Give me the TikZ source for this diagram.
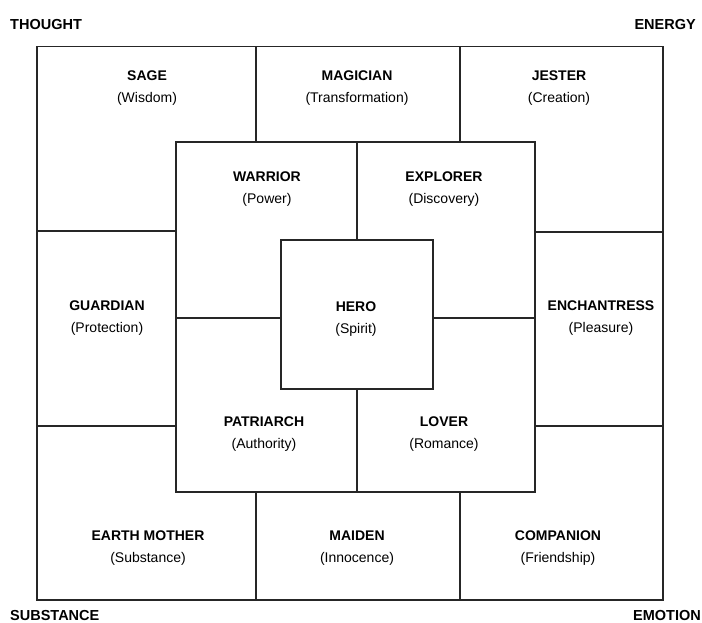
\documentclass[tikz,border=0pt]{standalone}
\usepackage{fontspec}
\setmainfont{Liberation Sans}
\begin{document}
\begin{tikzpicture}[x=1pt,y=-1pt,
  frame/.style={draw=black!85,line width=1.2pt},
  cell/.style={align=center,font=\fontsize{14}{22}\selectfont,inner sep=0pt},
  corner/.style={font=\fontsize{14.5}{16}\selectfont\bfseries,inner sep=0pt,anchor=west}]
\useasboundingbox (0,0) rectangle (702,623);
\fill[white] (0,0) rectangle (702,623);
% outer square and its cell dividers
\draw[frame] (37,46.5) rectangle (663,600);
\draw[frame] (256,46.5) -- (256,142) (460,46.5) -- (460,142);
\draw[frame] (256,492) -- (256,600) (460,492) -- (460,600);
\draw[frame] (37,231) -- (176,231) (37,426) -- (176,426);
\draw[frame] (535,232) -- (663,232) (535,426) -- (663,426);
% inner square
\draw[frame] (176,142) rectangle (535,492);
\draw[frame] (357,142) -- (357,240) (357,389) -- (357,492);
\draw[frame] (176,318) -- (281,318) (433,318) -- (535,318);
% centre square
\draw[frame] (281,240) rectangle (433,389);
% cell labels
\node[cell] (sage) at (147,88) {\textbf{SAGE}\\(Wisdom)};
\node[cell] (magician) at (357,88) {\textbf{MAGICIAN}\\(Transformation)};
\node[cell] (jester) at (559,88) {\textbf{JESTER}\\(Creation)};
\node[cell] (warrior) at (267,189) {\textbf{WARRIOR}\\(Power)};
\node[cell] (explorer) at (444,189) {\textbf{EXPLORER}\\(Discovery)};
\node[cell] (guardian) at (107,318) {\textbf{GUARDIAN}\\(Protection)};
\node[cell] (hero) at (356,319) {\textbf{HERO}\\(Spirit)};
\node[cell] (enchantress) at (601,318) {\textbf{ENCHANTRESS}\\(Pleasure)};
\node[cell] (patriarch) at (264,434) {\textbf{PATRIARCH}\\(Authority)};
\node[cell] (lover) at (444,434) {\textbf{LOVER}\\(Romance)};
\node[cell] (earthmother) at (148,548) {\textbf{EARTH MOTHER}\\(Substance)};
\node[cell] (maiden) at (357,548) {\textbf{MAIDEN}\\(Innocence)};
\node[cell] (companion) at (558,548) {\textbf{COMPANION}\\(Friendship)};
% corner labels
\node[corner] (thought) at (10,25) {THOUGHT};
\node[corner,anchor=east] (energy) at (696,25) {ENERGY};
\node[corner] (substance) at (10,616) {SUBSTANCE};
\node[corner,anchor=east] (emotion) at (701,616) {EMOTION};
\end{tikzpicture}
\end{document}
